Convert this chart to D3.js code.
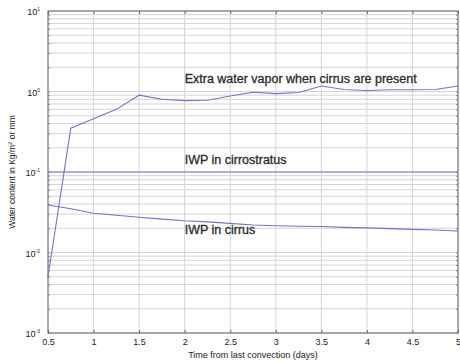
<!DOCTYPE html>
<html>
<head>
<meta charset="utf-8">
<script src="https://cdn.jsdelivr.net/npm/d3@7"></script>
<style>
  body { margin: 0; background: #fff; }
  text { font-family: "Liberation Sans", Arial, sans-serif; fill: #222; }
</style>
</head>
<body>
<div id="chart"></div>
<script>
// values
var times = [0.5, 0.75, 1, 1.25, 1.5, 1.75, 2, 2.25, 2.5, 2.75, 3, 3.25, 3.5, 3.75, 4, 4.25, 4.5, 4.75, 5];
var vapor = [0.005, 0.35, 0.46, 0.6, 0.9, 0.8, 0.77, 0.78, 0.88, 0.98, 0.94, 0.97, 1.17, 1.06, 1.03, 1.05, 1.05, 1.06, 1.17];
var cirrostratus = [0.1, 0.1, 0.1, 0.1, 0.1, 0.1, 0.1, 0.1, 0.1, 0.1, 0.1, 0.1, 0.1, 0.1, 0.1, 0.1, 0.1, 0.1, 0.1];
var cirrus = [0.039, 0.035, 0.0307, 0.029, 0.0274, 0.026, 0.0248, 0.024, 0.023, 0.022, 0.0215, 0.0212, 0.021, 0.0205, 0.0202, 0.0198, 0.0194, 0.019, 0.0185];
var xTicks = [0.5, 1, 1.5, 2, 2.5, 3, 3.5, 4, 4.5, 5];
var yExps = [-3, -2, -1, 0, 1];
var seriesLabels = [
  {name: "Extra water vapor when cirrus are present", t: 2.0, v: 1.28},
  {name: "IWP in cirrostratus", t: 2.0, v: 0.127},
  {name: "IWP in cirrus", t: 2.0, v: 0.0172}
];

var margin = {top: 11, right: 2, bottom: 29, left: 48},
    width = 460 - margin.left - margin.right,
    height = 362 - margin.top - margin.bottom;

var svg = d3.select("#chart")
    .append("svg")
    .attr("width", 460)
    .attr("height", 362)
    .append("g")
    .attr("transform", "translate(" + margin.left + "," + margin.top + ")");

var x = d3.scaleLinear().domain([0.5, 5]).range([0, width]);
var y = d3.scaleLog().domain([1e-3, 10]).range([height, 0]);

// minor + major horizontal grid
var yGrid = [];
yExps.slice(0, -1).forEach(function (e) {
    for (var k = 1; k < 10; k++) yGrid.push(k * Math.pow(10, e));
});
yGrid.push(10);

svg.selectAll(".hgrid")
    .data(yGrid)
    .enter()
    .append("line")
    .attr("x1", 0).attr("x2", width)
    .attr("y1", d => y(d)).attr("y2", d => y(d))
    .attr("stroke", "#d4d4d4")
    .attr("stroke-width", 1);

svg.selectAll(".vgrid")
    .data(xTicks)
    .enter()
    .append("line")
    .attr("x1", d => x(d)).attr("x2", d => x(d))
    .attr("y1", 0).attr("y2", height)
    .attr("stroke", "#d4d4d4")
    .attr("stroke-width", 1);

// frame
svg.append("rect")
    .attr("width", width).attr("height", height)
    .attr("fill", "none")
    .attr("stroke", "#666")
    .attr("stroke-width", 1);

// x axis
var xAxis = svg.append("g")
    .attr("transform", "translate(0," + height + ")")
    .call(d3.axisBottom(x).tickValues(xTicks).tickSize(-3).tickPadding(6).tickFormat(d3.format("")));
xAxis.select(".domain").remove();
xAxis.selectAll("line").attr("stroke", "#666");
xAxis.selectAll("text").style("font-size", "9px").attr("fill", "#222");

svg.append("g")
    .call(d3.axisTop(x).tickValues(xTicks).tickSize(-3).tickFormat(""))
    .call(g => g.select(".domain").remove())
    .selectAll("line").attr("stroke", "#666");

// y axis
var yAxis = svg.append("g")
    .call(d3.axisLeft(y).tickValues(yGrid).tickSize(-2).tickFormat(""));
yAxis.select(".domain").remove();
yAxis.selectAll("line").attr("stroke", "#888");

svg.append("g")
    .attr("transform", "translate(" + width + ",0)")
    .call(d3.axisRight(y).tickValues(yGrid).tickSize(-2).tickFormat(""))
    .call(g => g.select(".domain").remove())
    .selectAll("line").attr("stroke", "#888");

var yLab = svg.selectAll(".ylab")
    .data(yExps)
    .enter()
    .append("text")
    .attr("x", -8)
    .attr("y", d => y(Math.pow(10, d)) + 4)
    .attr("text-anchor", "end")
    .style("font-size", "9px");
yLab.append("tspan").text("10");
yLab.append("tspan")
    .attr("dy", -4)
    .style("font-size", "5px")
    .text(d => d);

// series
var line = d3.line()
    .x((d, i) => x(times[i]))
    .y(d => y(d));

[vapor, cirrostratus, cirrus].forEach(function (s) {
    svg.append("path")
        .datum(s)
        .attr("d", line)
        .attr("fill", "none")
        .attr("stroke", "#7274c4")
        .attr("stroke-width", 1.1);
});

svg.selectAll(".slab")
    .data(seriesLabels)
    .enter()
    .append("text")
    .attr("x", d => x(d.t))
    .attr("y", d => y(d.v))
    .style("font-size", "12.5px")
    .attr("fill", "#222")
    .attr("stroke", "#333")
    .attr("stroke-width", 0.3)
    .text(d => d.name);

// axis titles
svg.append("text")
    .attr("x", width / 2)
    .attr("y", height + 25)
    .attr("text-anchor", "middle")
    .style("font-size", "9px")
    .text("Time from last convection (days)");

var yt = svg.append("text")
    .attr("transform", "translate(-33," + (height / 2) + ") rotate(-90)")
    .attr("text-anchor", "middle")
    .style("font-size", "8.5px");
yt.append("tspan").text("Water content in Kg/m");
yt.append("tspan").attr("dy", -3).style("font-size", "6px").text("2");
yt.append("tspan").attr("dy", 3).text(" or mm");
</script>
</body>
</html>
